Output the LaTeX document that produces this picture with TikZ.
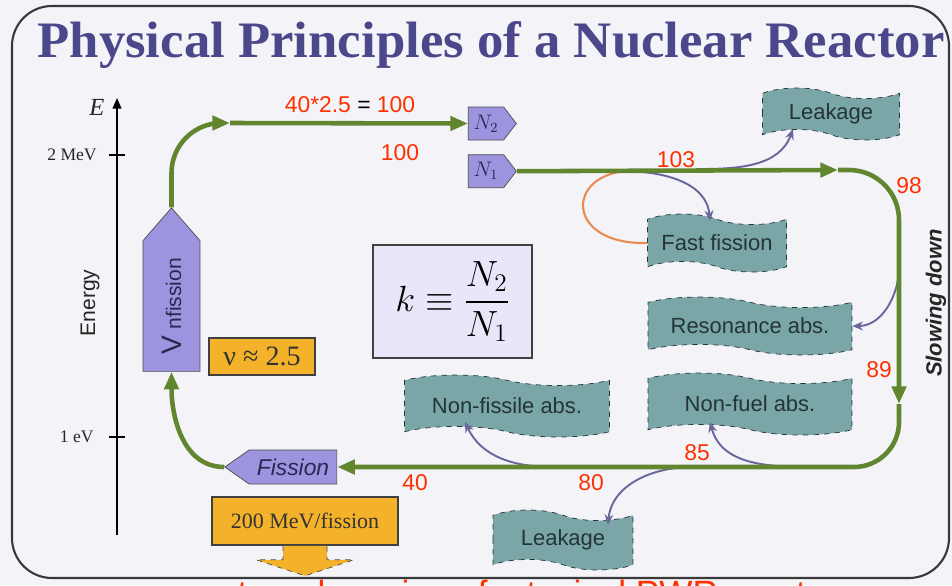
\documentclass[tikz,border=0pt]{standalone}
\usepackage{fontspec}
\setmainfont{Liberation Serif}
\setsansfont{Liberation Sans}
\usepackage{amsmath,amssymb}
\usetikzlibrary{shapes,arrows.meta,positioning,calc}

\definecolor{flowgreen}{RGB}{98,134,48}
\definecolor{nodepurple}{RGB}{156,148,222}
\definecolor{lossteal}{RGB}{122,166,168}
\definecolor{tealtext}{RGB}{35,52,58}
\definecolor{losslink}{RGB}{104,104,156}
\definecolor{looporange}{RGB}{232,140,84}
\definecolor{mevorange}{RGB}{244,178,42}
\definecolor{numred}{RGB}{255,48,0}
\definecolor{titleblue}{RGB}{74,72,138}
\definecolor{bgpaper}{RGB}{244,244,248}
\definecolor{inkdark}{RGB}{40,40,80}
\definecolor{kfill}{RGB}{232,230,248}

\begin{document}
\begin{tikzpicture}[x=0.02cm, y=0.02cm,
  frame/.style={draw=gray!45!black, line width=1.2pt, rounded corners=0.8cm},
  title/.style={anchor=base, inner sep=0pt, font=\bfseries, text=titleblue},
  axis/.style={draw=black, line width=0.8pt, -{Triangle[length=6pt,width=5pt]}},
  axlabel/.style={inner sep=0pt, font=\fontsize{10}{10}\selectfont, text=gray!30!black},
  flow/.style={draw=flowgreen, line width=2.6pt, -{Triangle[length=10pt,width=8pt]}},
  loss/.style={draw=losslink, line width=1.1pt, -{Stealth[length=6pt,width=5pt]}},
  loop/.style={draw=looporange, line width=1.2pt},
  neutron/.style={signal, signal to=east, signal pointer angle=105, draw=gray!60!black,
                  fill=nodepurple, minimum width=0.96cm, minimum height=0.66cm,
                  inner sep=0pt, font=\fontsize{12}{12}\selectfont, text=inkdark},
  fisnode/.style={signal, draw=gray!60!black, fill=nodepurple, inner sep=0pt,
                  font=\sffamily\itshape\fontsize{13}{13}\selectfont, text=inkdark},
  lossbox/.style={tape, tape bend top=out and in, tape bend bottom=out and in,
                  tape bend height=6pt, draw=tealtext, dashed, fill=lossteal,
                  inner sep=0pt, font=\sffamily\fontsize{12.5}{14}\selectfont,
                  text=tealtext},
  orangebox/.style={rectangle, draw=black!75, line width=0.9pt, fill=mevorange,
                    inner sep=0pt, text=black!80},
  num/.style={inner sep=0pt, font=\sffamily\fontsize{13}{13}\selectfont, text=numred},
]
  % ========= FRAME =========
  \fill[bgpaper] (0,0) rectangle (952,-585);
  \useasboundingbox (0,0) rectangle (952,-585);
  \draw[frame] (12,-6) rectangle (949,-578);
  \node[title] (title) at (491,-57)
       {\resizebox{18.14cm}{0.72cm}{Physical Principles of a Nuclear Reactor}};

  % ========= ENERGY AXIS =========
  \coordinate (axbot) at (117,-535);
  \coordinate (axtop) at (117,-98);
  \draw[axis] (axbot) -- (axtop);
  \node[axlabel, font=\itshape\fontsize{14}{14}\selectfont] (elab) at (97,-107) {E};
  \node[axlabel, anchor=east] (mev2) at (97,-155) {2 MeV};
  \node[axlabel, anchor=east] (ev1) at (94,-437) {1 eV};
  \draw[axis, -] ($(axtop|-mev2)+(-8,0)$) -- ++(16,0);
  \draw[axis, -] ($(axtop|-ev1)+(-8,0)$) -- ++(16,0);
  \node[rotate=90, inner sep=0pt, font=\sffamily\fontsize{12}{12}\selectfont,
        text=gray!30!black] (energy) at (90,-303) {Energy};

  % ========= NEUTRON GENERATIONS =========
  \node[neutron] (n2) at (486,-123.5) {$N_2$};
  \node[neutron, below=0.28cm of n2] (n1) {$N_1$};

  % Fission and neutron yield
  \node[fisnode, signal to=north, signal pointer angle=82, minimum width=1.14cm,
        minimum height=2.84cm, font=\sffamily\upshape\fontsize{12}{12}\selectfont]
       (vfis) at (171.5,-306)
       {\rotatebox{90}{{\fontsize{16}{16}\selectfont V} nfission}};
  \node[fisnode, signal to=west, signal pointer angle=70, minimum width=2.24cm,
        minimum height=0.68cm] (fis) at (293,-467) {Fission};
  \node[orangebox, minimum width=2.12cm, minimum height=0.74cm,
        font=\fontsize{16}{16}\selectfont] (nu) at (262,-356.5) {ν ≈ 2.5};
  \node[orangebox, minimum width=3.72cm, minimum height=0.96cm,
        font=\fontsize{12.5}{14}\selectfont] (mev) at (305,-521) {200 MeV/fission};
  \draw[fill=mevorange, draw=black!70, dashed]
       ($(mev.south)+(-22,0)$) -- ++(0,-14) -- ++(-27,0) -- ($(mev.south)+(0,-30)$)
       -- ($(mev.south)+(49,-14)$) -- ++(-27,0) -- ($(mev.south)+(22,0)$);

  % Multiplication factor
  \node[rectangle, draw=gray!50!black, line width=1.2pt, fill=kfill,
        minimum width=3.18cm, minimum height=2.26cm, inner sep=0pt,
        font=\fontsize{20}{24}\selectfont] (kdef) at (452.5,-301.5)
       {$k \equiv \dfrac{N_2}{N_1}$};

  % ========= LOSSES =========
  \node[lossbox, minimum width=2.74cm, minimum height=1.04cm] (leak1) at (831,-114) {Leakage};
  \node[lossbox, minimum width=2.78cm, minimum height=1.16cm] (ffis) at (717,-243) {Fast fission};
  \node[lossbox, minimum width=4.08cm, minimum height=1.16cm] (reso) at (750,-326) {Resonance abs.};
  \node[lossbox, minimum width=4.08cm, minimum height=1.24cm] (nfuel) at (750,-404) {Non-fuel abs.};
  \node[lossbox, minimum width=4.1cm, minimum height=1.24cm] (nfiss) at (507,-406) {Non-fissile abs.};
  \node[lossbox, minimum width=2.8cm, minimum height=1.2cm] (leak2) at (563,-540) {Leakage};

  \node[rotate=90, inner sep=0pt, font=\sffamily\bfseries\itshape\fontsize{12.5}{14}\selectfont,
        text=black!85] (slow) at (936,-303) {Slowing down};

  % taps on the neutron path
  \coordinate (tap1) at (700,-169);
  \coordinate (tap2) at (622,-171);
  \coordinate (tap3) at (642,-171);
  \coordinate (tap4) at (899,-272);
  \coordinate (tap5) at (825,-467);
  \coordinate (tap6) at (553,-467);
  \coordinate (tap7) at (692,-467);

  \draw[loss] (tap1) to[out=0,in=-110] ($(leak1.south)+(-38,6)$);
  \draw[loss] (tap2) to[out=0,in=95] ($(ffis.north)+(-7,-2)$);
  \draw[loop] (ffis.west) .. controls (560,-245) and (565,-165) .. (tap3);
  \draw[loss] (tap4) to[out=-95,in=0] (reso.east);
  \draw[loss] (tap5) to[out=180,in=-75] ($(nfuel.south)+(-40,8)$);
  \draw[loss] (tap6) to[out=180,in=-65] ($(nfiss.south)+(-42,10)$);
  \draw[loss] (tap7) to[out=180,in=85] ($(leak2.north)+(45,-10)$);

  % ========= NEUTRON PATH =========
  \coordinate (c1) at (230,-123);
  \coordinate (c2) at (838,-170);
  \coordinate (c3) at (899,-404);
  \draw[flow, rounded corners=1cm] (vfis.north) |- (c1);
  \draw[flow] (c1) -- (n2.west);
  \draw[flow] (n1.east) -- (c2);
  \draw[flow, rounded corners=1cm] (c2) -| (c3);
  \draw[flow, rounded corners=0.9cm] (c3) |- (fis.east);
  \draw[flow] (fis.west) to[out=180,in=-90] (vfis.south);

  % ========= NEUTRON COUNTS =========
  \node[num] (q100) at (350,-105) {40*2.5 \textcolor{black}{=} 100};
  \foreach \lbl/\x/\y in {100/400/-153, 103/676/-160, 98/909/-186, 89/879/-370,
                          85/697/-453, 80/591/-483, 40/415/-483}
    \node[num] (num\lbl) at (\x,\y) {\lbl};

  % caption cut off at the bottom edge
  \begin{scope}
    \clip (0,-579) rectangle (952,-585);
    \node[num, anchor=north west, font=\sffamily\fontsize{20}{20}\selectfont]
         (caption) at (165,-580) {a re-tuned version of a typical PWR reactor};
  \end{scope}

\end{tikzpicture}
\end{document}
